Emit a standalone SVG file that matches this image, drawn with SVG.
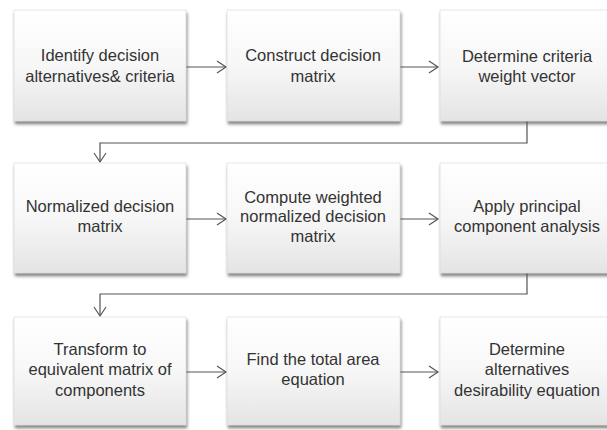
<svg xmlns="http://www.w3.org/2000/svg" width="607" height="430" viewBox="0 0 607 430">
<defs>
<linearGradient id="g" x1="0" y1="0" x2="0" y2="1">
<stop offset="0" stop-color="#ffffff"/>
<stop offset="0.5" stop-color="#f7f7f7"/>
<stop offset="1" stop-color="#e4e4e4"/>
</linearGradient>
<filter id="sh" x="-10%" y="-10%" width="125%" height="130%">
<feDropShadow dx="1" dy="3" stdDeviation="1.6" flood-color="#555" flood-opacity="0.7"/>
</filter>
<marker id="arr" markerWidth="12" markerHeight="14" refX="10" refY="7" orient="auto" markerUnits="userSpaceOnUse">
<path d="M1,1 L10,7 L1,13" fill="none" stroke="#555" stroke-width="1.2"/>
</marker>
</defs>
<style>
.box{fill:url(#g);stroke:#d8d8d8;stroke-width:0.6;filter:url(#sh)}
.t{font-family:"Liberation Sans",Arial,sans-serif;font-size:16.5px;fill:#333;text-anchor:middle}
.c{fill:none;stroke:#555;stroke-width:1.2;marker-end:url(#arr)}
</style>
<rect width="607" height="430" fill="#fff"/>
<g id="connectors">
<path class="c" d="M186,67 H226"/>
<path class="c" d="M400,67 H438"/>
<path class="c" d="M527,121 V143 H100 V162"/>
<path class="c" d="M186,219 H226"/>
<path class="c" d="M400,219 H438"/>
<path class="c" d="M527,273 V294 H100 V316"/>
<path class="c" d="M186,372 H226"/>
<path class="c" d="M400,372 H438"/>
</g>
<g id="n1"><rect class="box" x="14" y="10" width="172" height="111"/>
<text class="t" x="100" y="61">Identify decision</text><text class="t" x="100" y="82">alternatives&amp; criteria</text></g>
<g id="n2"><rect class="box" x="227" y="10" width="173" height="111"/>
<text class="t" x="313" y="61">Construct decision</text><text class="t" x="313" y="82">matrix</text></g>
<g id="n3"><rect class="box" x="440" y="10" width="174" height="111"/>
<text class="t" x="527" y="62">Determine criteria</text><text class="t" x="527" y="82">weight vector</text></g>
<g id="n4"><rect class="box" x="14" y="163" width="172" height="110"/>
<text class="t" x="100" y="212">Normalized decision</text><text class="t" x="100" y="232">matrix</text></g>
<g id="n5"><rect class="box" x="227" y="163" width="173" height="110"/>
<text class="t" x="313" y="203">Compute weighted</text><text class="t" x="313" y="222">normalized decision</text><text class="t" x="313" y="242">matrix</text></g>
<g id="n6"><rect class="box" x="440" y="163" width="174" height="110"/>
<text class="t" x="527" y="212">Apply principal</text><text class="t" x="527" y="232">component analysis</text></g>
<g id="n7"><rect class="box" x="14" y="317" width="172" height="108"/>
<text class="t" x="100" y="355">Transform to</text><text class="t" x="100" y="375">equivalent matrix of</text><text class="t" x="100" y="396">components</text></g>
<g id="n8"><rect class="box" x="227" y="317" width="173" height="108"/>
<text class="t" x="313" y="365">Find the total area</text><text class="t" x="313" y="385">equation</text></g>
<g id="n9"><rect class="box" x="440" y="317" width="174" height="108"/>
<text class="t" x="527" y="355">Determine</text><text class="t" x="527" y="375">alternatives</text><text class="t" x="527" y="396">desirability equation</text></g>
</svg>
